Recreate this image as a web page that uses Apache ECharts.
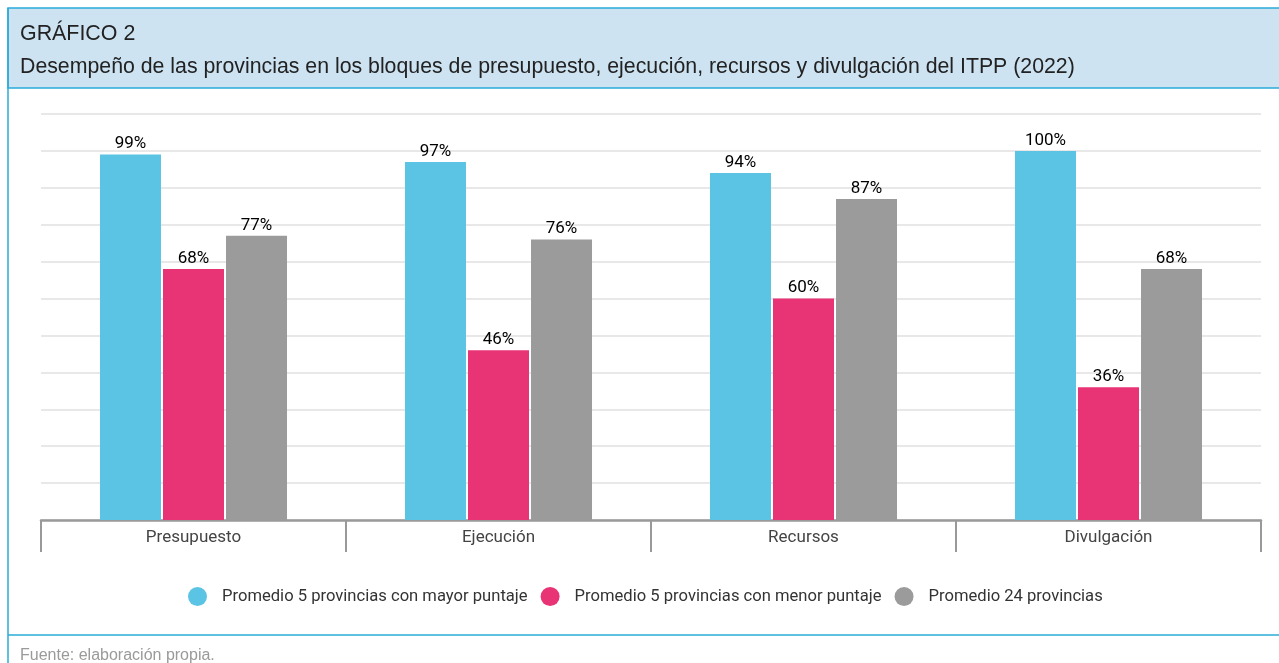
<!DOCTYPE html>
<html><head><meta charset="utf-8">
<script src="https://cdn.jsdelivr.net/npm/echarts@6/dist/echarts.min.js"></script>
<style>html,body{margin:0;padding:0;background:#fff;}#c{width:1279px;height:663px;}</style>
</head><body><div id="c"></div>
<script>
var categories = ['Presupuesto', 'Ejecución', 'Recursos', 'Divulgación'];
var seriesNames = ['Promedio 5 provincias con mayor puntaje', 'Promedio 5 provincias con menor puntaje', 'Promedio 24 provincias'];
var mayorPuntaje = [99, 97, 94, 100];
var menorPuntaje = [68, 46, 60, 36];
var promedio24 = [77, 76, 87, 68];
var colors = ['#5bc4e4', '#e83375', '#9b9b9b'];

var chart = echarts.init(document.getElementById('c'), null, {renderer: 'canvas'});
var dataSets = [mayorPuntaje, menorPuntaje, promedio24];
var series = dataSets.map(function (d, i) {
  return {
    name: seriesNames[i], type: 'bar', data: d,
    barWidth: 61, barGap: '3.3%',
    itemStyle: {color: colors[i]},
    label: {show: true, position: 'top', distance: 2, formatter: '{c}%',
      fontFamily: 'Roboto', fontSize: 17, color: '#000', fontWeight: 'normal'}
  };
});
chart.setOption({
  animation: false,
  textStyle: {fontFamily: 'Roboto'},
  graphic: [
    {type: 'rect', z: 0, shape: {x: 8, y: 8, width: 1290, height: 80}, style: {fill: '#cde3f2', stroke: '#29acd9', lineWidth: 1.5}},
    {type: 'line', z: 1, shape: {x1: 8, y1: 8, x2: 8, y2: 670}, style: {stroke: '#29acd9', lineWidth: 1.5}},
    {type: 'line', z: 1, shape: {x1: 8, y1: 635, x2: 1290, y2: 635}, style: {stroke: '#29acd9', lineWidth: 1.5}},
    {type: 'text', z: 2, left: 20, top: 24, style: {text: 'GRÁFICO 2', fontFamily: 'Liberation Sans', fontSize: 21.4, fill: '#222'}},
    {type: 'text', z: 2, left: 20, top: 57, style: {text: 'Desempeño de las provincias en los bloques de presupuesto, ejecución, recursos y divulgación del ITPP (2022)', fontFamily: 'Liberation Sans', fontSize: 21.3, fill: '#222'}},
    {type: 'text', z: 2, left: 20, top: 648, style: {text: 'Fuente: elaboración propia.', fontFamily: 'Liberation Sans', fontSize: 16, fill: '#9a9a9a'}}
  ],
  legend: {
    left: 183, top: 582, icon: 'circle', itemWidth: 19, itemHeight: 19, itemGap: 13,
    textStyle: {fontFamily: 'Roboto', fontSize: 16.6, color: '#333', padding: [0, 0, 0, 10]},
    data: seriesNames
  },
  grid: {left: 41, right: 18, top: 114, bottom: 143, containLabel: false},
  xAxis: {
    type: 'category', data: categories,
    axisLine: {lineStyle: {color: '#999', width: 2.5}},
    axisTick: {show: true, length: 32, lineStyle: {color: '#999', width: 2}},
    axisLabel: {fontFamily: 'Roboto', fontSize: 17, color: '#444', margin: 9, fontWeight: 'normal'}
  },
  yAxis: {
    type: 'value', min: 0, max: 110, interval: 10,
    axisLabel: {show: false}, axisLine: {show: false}, axisTick: {show: false},
    splitLine: {lineStyle: {color: '#e8e8e8', width: 2}}
  },
  series: series
});
</script></body></html>
